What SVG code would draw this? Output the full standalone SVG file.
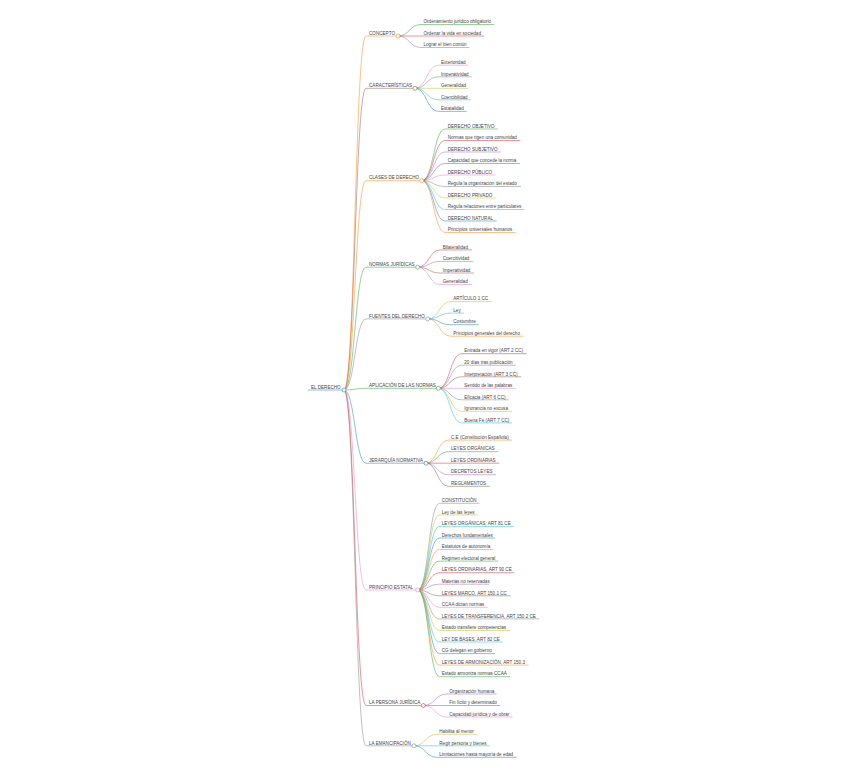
<svg xmlns="http://www.w3.org/2000/svg" width="848" height="777" viewBox="0 0 848 777">
<style>
path{fill:none;stroke-width:0.9;stroke-opacity:0.55}
circle{fill:#fff;stroke-width:0.8;stroke-opacity:0.7}
text{font-family:"Liberation Sans",Arial,sans-serif;font-size:4.6px;fill:#444}
.s0{stroke:#1f77b4}.s1{stroke:#ff7f0e}.s2{stroke:#2ca02c}.s3{stroke:#d62728}.s4{stroke:#9467bd}
.s5{stroke:#8c564b}.s6{stroke:#e377c2}.s7{stroke:#7f7f7f}.s8{stroke:#bcbd22}.s9{stroke:#17becf}
</style>
<rect width="848" height="777" fill="#fff"/>
<g id="connectors">
<path class="s1" d="M344 390C355 390 355 36 366 36"/>
<path class="s5" d="M344 390C355 390 355 88.3 366 88.3"/>
<path class="s1" d="M344 390C355 390 355 180.7 366 180.7"/>
<path class="s2" d="M344 390C355 390 355 267.2 366 267.2"/>
<path class="s7" d="M344 390C355 390 355 318.9 366 318.9"/>
<path class="s2" d="M344 390C355 390 355 388.3 366 388.3"/>
<path class="s0" d="M344 390C355 390 355 463.2 366 463.2"/>
<path class="s6" d="M344 390C355 390 355 590 366 590"/>
<path class="s3" d="M344 390C355 390 355 705.5 366 705.5"/>
<path class="s7" d="M344 390C355 390 355 745.8 366 745.8"/>
<path class="s2" d="M398 36C409.5 36 409.5 24.5 421 24.5"/>
<path class="s3" d="M398 36C409.5 36 409.5 36 421 36"/>
<path class="s4" d="M398 36C409.5 36 409.5 47.5 421 47.5"/>
<path class="s6" d="M415 88.3C426.7 88.3 426.7 65.2 438.5 65.2"/>
<path class="s7" d="M415 88.3C426.7 88.3 426.7 76.8 438.5 76.8"/>
<path class="s8" d="M415 88.3C426.7 88.3 426.7 88.3 438.5 88.3"/>
<path class="s9" d="M415 88.3C426.7 88.3 426.7 99.8 438.5 99.8"/>
<path class="s0" d="M415 88.3C426.7 88.3 426.7 111.4 438.5 111.4"/>
<path class="s2" d="M421.7 180.7C433.5 180.7 433.5 129 445.2 129"/>
<path class="s3" d="M421.7 180.7C433.5 180.7 433.5 140.5 445.2 140.5"/>
<path class="s4" d="M421.7 180.7C433.5 180.7 433.5 152 445.2 152"/>
<path class="s5" d="M421.7 180.7C433.5 180.7 433.5 163.5 445.2 163.5"/>
<path class="s6" d="M421.7 180.7C433.5 180.7 433.5 175 445.2 175"/>
<path class="s7" d="M421.7 180.7C433.5 180.7 433.5 186.5 445.2 186.5"/>
<path class="s8" d="M421.7 180.7C433.5 180.7 433.5 198 445.2 198"/>
<path class="s9" d="M421.7 180.7C433.5 180.7 433.5 209.5 445.2 209.5"/>
<path class="s0" d="M421.7 180.7C433.5 180.7 433.5 221 445.2 221"/>
<path class="s1" d="M421.7 180.7C433.5 180.7 433.5 232.5 445.2 232.5"/>
<path class="s3" d="M417.7 267.2C429 267.2 429 249.9 440.2 249.9"/>
<path class="s4" d="M417.7 267.2C429 267.2 429 261.4 440.2 261.4"/>
<path class="s5" d="M417.7 267.2C429 267.2 429 273 440.2 273"/>
<path class="s6" d="M417.7 267.2C429 267.2 429 284.5 440.2 284.5"/>
<path class="s8" d="M427.7 318.9C439.2 318.9 439.2 301.6 450.8 301.6"/>
<path class="s9" d="M427.7 318.9C439.2 318.9 439.2 313.1 450.8 313.1"/>
<path class="s0" d="M427.7 318.9C439.2 318.9 439.2 324.7 450.8 324.7"/>
<path class="s1" d="M427.7 318.9C439.2 318.9 439.2 336.2 450.8 336.2"/>
<path class="s3" d="M438.3 388.3C450 388.3 450 353.7 461.8 353.7"/>
<path class="s4" d="M438.3 388.3C450 388.3 450 365.2 461.8 365.2"/>
<path class="s5" d="M438.3 388.3C450 388.3 450 376.8 461.8 376.8"/>
<path class="s6" d="M438.3 388.3C450 388.3 450 388.3 461.8 388.3"/>
<path class="s7" d="M438.3 388.3C450 388.3 450 399.8 461.8 399.8"/>
<path class="s8" d="M438.3 388.3C450 388.3 450 411.4 461.8 411.4"/>
<path class="s9" d="M438.3 388.3C450 388.3 450 422.9 461.8 422.9"/>
<path class="s1" d="M426 463.2C437.2 463.2 437.2 440.1 448.5 440.1"/>
<path class="s2" d="M426 463.2C437.2 463.2 437.2 451.7 448.5 451.7"/>
<path class="s3" d="M426 463.2C437.2 463.2 437.2 463.2 448.5 463.2"/>
<path class="s4" d="M426 463.2C437.2 463.2 437.2 474.7 448.5 474.7"/>
<path class="s5" d="M426 463.2C437.2 463.2 437.2 486.3 448.5 486.3"/>
<path class="s7" d="M417.7 590C428.6 590 428.6 503.3 439.5 503.3"/>
<path class="s8" d="M417.7 590C428.6 590 428.6 514.9 439.5 514.9"/>
<path class="s9" d="M417.7 590C428.6 590 428.6 526.4 439.5 526.4"/>
<path class="s0" d="M417.7 590C428.6 590 428.6 538 439.5 538"/>
<path class="s1" d="M417.7 590C428.6 590 428.6 549.5 439.5 549.5"/>
<path class="s2" d="M417.7 590C428.6 590 428.6 561.1 439.5 561.1"/>
<path class="s3" d="M417.7 590C428.6 590 428.6 572.7 439.5 572.7"/>
<path class="s4" d="M417.7 590C428.6 590 428.6 584.2 439.5 584.2"/>
<path class="s5" d="M417.7 590C428.6 590 428.6 595.8 439.5 595.8"/>
<path class="s6" d="M417.7 590C428.6 590 428.6 607.3 439.5 607.3"/>
<path class="s7" d="M417.7 590C428.6 590 428.6 618.9 439.5 618.9"/>
<path class="s8" d="M417.7 590C428.6 590 428.6 630.5 439.5 630.5"/>
<path class="s9" d="M417.7 590C428.6 590 428.6 642 439.5 642"/>
<path class="s0" d="M417.7 590C428.6 590 428.6 653.6 439.5 653.6"/>
<path class="s1" d="M417.7 590C428.6 590 428.6 665.1 439.5 665.1"/>
<path class="s2" d="M417.7 590C428.6 590 428.6 676.7 439.5 676.7"/>
<path class="s4" d="M423.3 705.5C435 705.5 435 694 446.8 694"/>
<path class="s5" d="M423.3 705.5C435 705.5 435 705.5 446.8 705.5"/>
<path class="s6" d="M423.3 705.5C435 705.5 435 717 446.8 717"/>
<path class="s8" d="M414 745.8C425.4 745.8 425.4 734.3 436.8 734.3"/>
<path class="s9" d="M414 745.8C425.4 745.8 425.4 745.8 436.8 745.8"/>
<path class="s0" d="M414 745.8C425.4 745.8 425.4 757.3 436.8 757.3"/>
</g>
<g id="n-root"><path class="s0" d="M308 390H344"/><circle class="s0" cx="344" cy="390" r="2"/><text x="311" y="388.7">EL DERECHO</text></g>
<g id="n-concepto"><path class="s1" d="M366 36H398"/><circle class="s1" cx="398" cy="36" r="2"/><text x="369" y="34.7">CONCEPTO</text></g>
<g id="n-concepto-1"><path class="s2" d="M421 24.5H494.3"/><text x="423.5" y="23.2">Ordenamiento jurídico obligatorio</text></g>
<g id="n-concepto-2"><path class="s3" d="M421 36H484.3"/><text x="423.5" y="34.7">Ordenar la vida en sociedad</text></g>
<g id="n-concepto-3"><path class="s4" d="M421 47.5H469.3"/><text x="423.5" y="46.2">Lograr el bien común</text></g>
<g id="n-caract"><path class="s5" d="M366 88.3H415"/><circle class="s5" cx="415" cy="88.3" r="2"/><text x="369" y="87">CARACTERÍSTICAS</text></g>
<g id="n-caract-1"><path class="s6" d="M438.5 65.2H468.3"/><text x="441" y="63.9">Exterioridad</text></g>
<g id="n-caract-2"><path class="s7" d="M438.5 76.8H471.7"/><text x="441" y="75.5">Imperatividad</text></g>
<g id="n-caract-3"><path class="s8" d="M438.5 88.3H468.3"/><text x="441" y="87">Generalidad</text></g>
<g id="n-caract-4"><path class="s9" d="M438.5 99.8H470.7"/><text x="441" y="98.5">Coercibilidad</text></g>
<g id="n-caract-5"><path class="s0" d="M438.5 111.4H466.7"/><text x="441" y="110.1">Estatalidad</text></g>
<g id="n-clases"><path class="s1" d="M366 180.7H421.7"/><circle class="s1" cx="421.7" cy="180.7" r="2"/><text x="369" y="179.4">CLASES DE DERECHO</text></g>
<g id="n-clases-1"><path class="s2" d="M445.2 129H497.7"/><text x="447.7" y="127.7">DERECHO OBJETIVO</text></g>
<g id="n-clases-2"><path class="s3" d="M445.2 140.5H520.3"/><text x="447.7" y="139.2">Normas que rigen una comunidad</text></g>
<g id="n-clases-3"><path class="s4" d="M445.2 152H500.7"/><text x="447.7" y="150.7">DERECHO SUBJETIVO</text></g>
<g id="n-clases-4"><path class="s5" d="M445.2 163.5H520"/><text x="447.7" y="162.2">Capacidad que concede la norma</text></g>
<g id="n-clases-5"><path class="s6" d="M445.2 175H495.7"/><text x="447.7" y="173.7">DERECHO PÚBLICO</text></g>
<g id="n-clases-6"><path class="s7" d="M445.2 186.5H521"/><text x="447.7" y="185.2">Regula la organización del estado</text></g>
<g id="n-clases-7"><path class="s8" d="M445.2 198H495.7"/><text x="447.7" y="196.7">DERECHO PRIVADO</text></g>
<g id="n-clases-8"><path class="s9" d="M445.2 209.5H524.3"/><text x="447.7" y="208.2">Regula relaciones entre particulares</text></g>
<g id="n-clases-9"><path class="s0" d="M445.2 221H496.7"/><text x="447.7" y="219.7">DERECHO NATURAL</text></g>
<g id="n-clases-10"><path class="s1" d="M445.2 232.5H515.7"/><text x="447.7" y="231.2">Principios universales humanos</text></g>
<g id="n-normas"><path class="s2" d="M366 267.2H417.7"/><circle class="s2" cx="417.7" cy="267.2" r="2"/><text x="369" y="265.9">NORMAS JURÍDICAS</text></g>
<g id="n-normas-1"><path class="s3" d="M440.2 249.9H472"/><text x="442.7" y="248.6">Bilateralidad</text></g>
<g id="n-normas-2"><path class="s4" d="M440.2 261.4H473.3"/><text x="442.7" y="260.1">Coercitividad</text></g>
<g id="n-normas-3"><path class="s5" d="M440.2 273H474"/><text x="442.7" y="271.7">Imperatividad</text></g>
<g id="n-normas-4"><path class="s6" d="M440.2 284.5H472"/><text x="442.7" y="283.2">Generalidad</text></g>
<g id="n-fuentes"><path class="s7" d="M366 318.9H427.7"/><circle class="s7" cx="427.7" cy="318.9" r="2"/><text x="369" y="317.6">FUENTES DEL DERECHO</text></g>
<g id="n-fuentes-1"><path class="s8" d="M450.8 301.6H491.7"/><text x="453.3" y="300.3">ARTÍCULO 1 CC</text></g>
<g id="n-fuentes-2"><path class="s9" d="M450.8 313.1H464"/><text x="453.3" y="311.8">Ley</text></g>
<g id="n-fuentes-3"><path class="s0" d="M450.8 324.7H478.7"/><text x="453.3" y="323.4">Costumbre</text></g>
<g id="n-fuentes-4"><path class="s1" d="M450.8 336.2H523.3"/><text x="453.3" y="334.9">Principios generales del derecho</text></g>
<g id="n-aplic"><path class="s2" d="M366 388.3H438.3"/><circle class="s2" cx="438.3" cy="388.3" r="2"/><text x="369" y="387">APLICACIÓN DE LAS NORMAS</text></g>
<g id="n-aplic-1"><path class="s3" d="M461.8 353.7H526.7"/><text x="464.3" y="352.4">Entrada en vigor (ART 2 CC)</text></g>
<g id="n-aplic-2"><path class="s4" d="M461.8 365.2H516"/><text x="464.3" y="363.9">20 días tras publicación</text></g>
<g id="n-aplic-3"><path class="s5" d="M461.8 376.8H521.3"/><text x="464.3" y="375.5">Interpretación (ART 3 CC)</text></g>
<g id="n-aplic-4"><path class="s6" d="M461.8 388.3H516"/><text x="464.3" y="387">Sentido de las palabras</text></g>
<g id="n-aplic-5"><path class="s7" d="M461.8 399.8H508.7"/><text x="464.3" y="398.5">Eficacia (ART 6 CC)</text></g>
<g id="n-aplic-6"><path class="s8" d="M461.8 411.4H512"/><text x="464.3" y="410.1">Ignorancia no excusa</text></g>
<g id="n-aplic-7"><path class="s9" d="M461.8 422.9H512"/><text x="464.3" y="421.6">Buena Fe (ART 7 CC)</text></g>
<g id="n-jerarquia"><path class="s0" d="M366 463.2H426"/><circle class="s0" cx="426" cy="463.2" r="2"/><text x="369" y="461.9">JERARQUÍA NORMATIVA</text></g>
<g id="n-jerarquia-1"><path class="s1" d="M448.5 440.1H512.3"/><text x="451" y="438.8">C.E (Constitución Española)</text></g>
<g id="n-jerarquia-2"><path class="s2" d="M448.5 451.7H498.3"/><text x="451" y="450.4">LEYES ORGÁNICAS</text></g>
<g id="n-jerarquia-3"><path class="s3" d="M448.5 463.2H499.3"/><text x="451" y="461.9">LEYES ORDINARIAS</text></g>
<g id="n-jerarquia-4"><path class="s4" d="M448.5 474.7H496"/><text x="451" y="473.4">DECRETOS LEYES</text></g>
<g id="n-jerarquia-5"><path class="s5" d="M448.5 486.3H490"/><text x="451" y="485">REGLAMENTOS</text></g>
<g id="n-principio"><path class="s6" d="M366 590H417.7"/><circle class="s6" cx="417.7" cy="590" r="2"/><text x="369" y="588.7">PRINCIPIO ESTATAL</text></g>
<g id="n-principio-1"><path class="s7" d="M439.5 503.3H479.3"/><text x="441.7" y="502">CONSTITUCIÓN</text></g>
<g id="n-principio-2"><path class="s8" d="M439.5 514.9H478"/><text x="441.7" y="513.6">Ley de las leyes</text></g>
<g id="n-principio-3"><path class="s9" d="M439.5 526.4H514.3"/><text x="441.7" y="525.1">LEYES ORGÁNICAS, ART 81 CE</text></g>
<g id="n-principio-4"><path class="s0" d="M439.5 538H495.3"/><text x="441.7" y="536.7">Derechos fundamentales</text></g>
<g id="n-principio-5"><path class="s1" d="M439.5 549.5H493.3"/><text x="441.7" y="548.2">Estatutos de autonomía</text></g>
<g id="n-principio-6"><path class="s2" d="M439.5 561.1H498.3"/><text x="441.7" y="559.8">Regimen electoral general</text></g>
<g id="n-principio-7"><path class="s3" d="M439.5 572.7H514.3"/><text x="441.7" y="571.4">LEYES ORDINARIAS, ART 90 CE</text></g>
<g id="n-principio-8"><path class="s4" d="M439.5 584.2H489.3"/><text x="441.7" y="582.9">Materias no reservadas</text></g>
<g id="n-principio-9"><path class="s5" d="M439.5 595.8H510.7"/><text x="441.7" y="594.5">LEYES MARCO, ART 150.1 CC</text></g>
<g id="n-principio-10"><path class="s6" d="M439.5 607.3H487.7"/><text x="441.7" y="606">CCAA dictan normas</text></g>
<g id="n-principio-11"><path class="s7" d="M439.5 618.9H539.3"/><text x="441.7" y="617.6">LEYES DE TRANSFERENCIA, ART 150.2 CE</text></g>
<g id="n-principio-12"><path class="s8" d="M439.5 630.5H510"/><text x="441.7" y="629.2">Estado transfiere competencias</text></g>
<g id="n-principio-13"><path class="s9" d="M439.5 642H502.7"/><text x="441.7" y="640.7">LEY DE BASES, ART 82 CE</text></g>
<g id="n-principio-14"><path class="s0" d="M439.5 653.6H495"/><text x="441.7" y="652.3">CG delegan en gobierno</text></g>
<g id="n-principio-15"><path class="s1" d="M439.5 665.1H528.7"/><text x="441.7" y="663.8">LEYES DE ARMONIZACIÓN, ART 150.3</text></g>
<g id="n-principio-16"><path class="s2" d="M439.5 676.7H510"/><text x="441.7" y="675.4">Estado armoniza normas CCAA</text></g>
<g id="n-persona"><path class="s3" d="M366 705.5H423.3"/><circle class="s3" cx="423.3" cy="705.5" r="2"/><text x="369" y="704.2">LA PERSONA JURÍDICA</text></g>
<g id="n-persona-1"><path class="s4" d="M446.8 694H496.7"/><text x="449.3" y="692.7">Organización humana</text></g>
<g id="n-persona-2"><path class="s5" d="M446.8 705.5H500"/><text x="449.3" y="704.2">Fin lícito y determinado</text></g>
<g id="n-persona-3"><path class="s6" d="M446.8 717H512.7"/><text x="449.3" y="715.7">Capacidad jurídica y de obrar</text></g>
<g id="n-emancip"><path class="s7" d="M366 745.8H414"/><circle class="s7" cx="414" cy="745.8" r="2"/><text x="369" y="744.5">LA EMANCIPACIÓN</text></g>
<g id="n-emancip-1"><path class="s8" d="M436.8 734.3H477.3"/><text x="439.3" y="733">Habilita al menor</text></g>
<g id="n-emancip-2"><path class="s9" d="M436.8 745.8H490"/><text x="439.3" y="744.5">Regir persona y bienes</text></g>
<g id="n-emancip-3"><path class="s0" d="M436.8 757.3H516.7"/><text x="439.3" y="756">Limitaciones hasta mayoría de edad</text></g>
</svg>
